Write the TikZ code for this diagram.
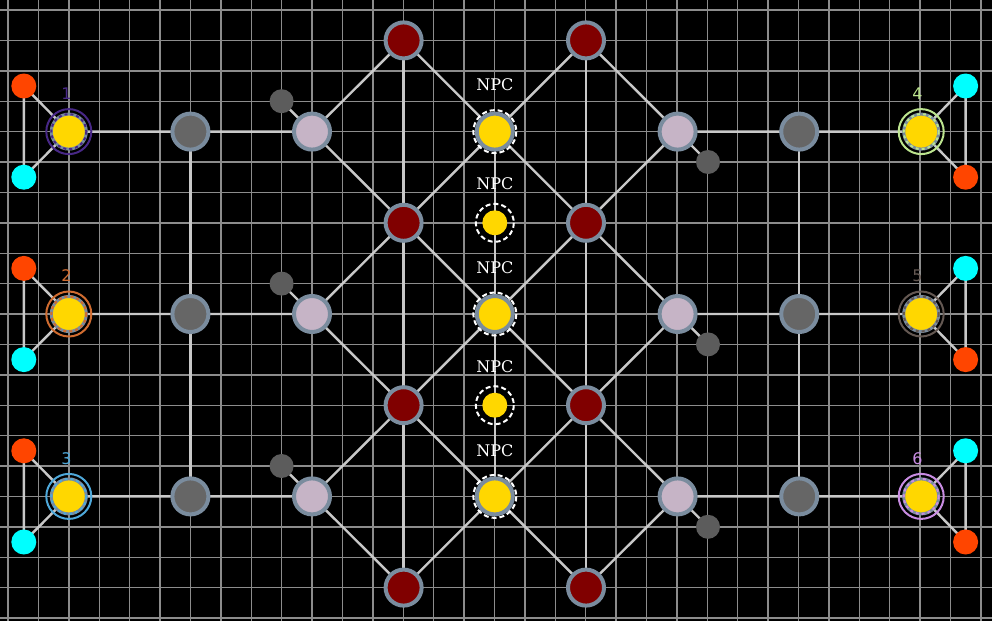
\documentclass[tikz,border=0pt]{standalone}
\usepackage{fontspec}
\newfontfamily\labfont{DejaVu Sans}
\newfontfamily\npcfont{DejaVu Serif}
\definecolor{slate}{RGB}{122,140,158}
\definecolor{darkred}{RGB}{128,0,0}
\definecolor{midgray}{RGB}{102,102,102}
\definecolor{tgray}{RGB}{92,92,92}
\definecolor{lav}{RGB}{198,180,198}
\definecolor{gold}{RGB}{255,215,0}
\definecolor{orangered}{RGB}{255,69,0}
\definecolor{aqua}{RGB}{0,255,255}
\definecolor{gridc}{RGB}{140,140,140}
\definecolor{edgec}{RGB}{200,200,200}
\definecolor{pone}{RGB}{72,40,135}
\definecolor{ptwo}{RGB}{208,108,48}
\definecolor{pthree}{RGB}{78,168,218}
\definecolor{pfour}{RGB}{188,228,142}
\definecolor{pfive}{RGB}{100,88,82}
\definecolor{psix}{RGB}{200,140,226}
\pgfdeclarelayer{gridlayer}
\pgfdeclarelayer{edgelayer}
\pgfsetlayers{gridlayer,edgelayer,main}
\begin{document}
\begin{tikzpicture}[x=1pt,y=-1pt,
  edge/.style={draw=edgec, line width=2.4pt},
  bignode/.style={circle, minimum size=36pt, inner sep=0pt, line width=4pt, draw=slate},
  rednode/.style={bignode, fill=darkred},
  graynode/.style={bignode, fill=midgray},
  lavnode/.style={bignode, fill=lav},
  npcbig/.style={bignode, fill=gold},
  npcsmall/.style={circle, minimum size=25pt, inner sep=0pt, fill=gold},
  tinygray/.style={circle, minimum size=24pt, inner sep=0pt, fill=tgray},
  orn/.style={circle, minimum size=25pt, inner sep=0pt, fill=orangered},
  cyn/.style={circle, minimum size=25pt, inner sep=0pt, fill=aqua},
  player/.style={circle, minimum size=35pt, inner sep=0pt, line width=3pt, draw=slate, fill=gold},
  plabel/.style={font=\labfont\fontsize{16}{16}\selectfont, inner sep=0pt},
  npclabel/.style={font=\npcfont\fontsize{16}{16}\selectfont, text=white, inner sep=0pt},
  npcring/.style={draw=white, line width=2pt, dash pattern=on 5pt off 3pt},
]
\useasboundingbox (0,0) rectangle (992,621);
\begin{pgfonlayer}{gridlayer}
\fill[black] (0,0) rectangle (992,621);
\foreach \k in {0,...,32} \draw[gridc, line width=1.4pt] ({8+30.4*\k},0) -- ({8+30.4*\k},621);
\foreach \k in {0,...,20} \draw[gridc, line width=1.4pt] (0,{10+30.4*\k}) -- (992,{10+30.4*\k});
\end{pgfonlayer}

% dark red nodes
\foreach \j/\y in {1/40.4,2/222.8,3/405.2,4/587.6}{
  \node[rednode] (rl\j) at (403.6,\y) {};
  \node[rednode] (rr\j) at (586.0,\y) {};
}
% NPC nodes
\node[npcbig] (n1) at (494.8,131.6) {};
\node[npcsmall] (n2) at (494.8,222.8) {};
\node[npcbig] (n3) at (494.8,314.0) {};
\node[npcsmall] (n4) at (494.8,405.2) {};
\node[npcbig] (n5) at (494.8,496.4) {};
\foreach \n in {n1,n3,n5} \draw[npcring] (\n.center) circle (21.5);
\foreach \n in {n2,n4} \draw[npcring] (\n.center) circle (19);
\node[npclabel] (t1) at (494.8,85) {NPC};
\node[npclabel] (t2) at (494.8,184) {NPC};
\node[npclabel] (t3) at (494.8,268) {NPC};
\node[npclabel] (t4) at (494.8,367) {NPC};
\node[npclabel] (t5) at (494.8,451) {NPC};

% left side
\foreach \i/\y/\c/\t in {1/131.6/pone/1,2/314.0/ptwo/2,3/496.4/pthree/3}{
  \node[graynode] (gl\i) at (190.4,\y) {};
  \node[lavnode] (ll\i) at (312.0,\y) {};
  \node[tinygray] (sl\i) at (281.6,{\y-30.4}) {};
  \node[orn] (ol\i) at (23.8,{\y-45.6}) {};
  \node[cyn] (cl\i) at (23.8,{\y+45.6}) {};
  \node[player] (pl\i) at (68.8,\y) {};
  \draw[\c, line width=2pt, dash pattern=on 3pt off 3pt] (pl\i.center) circle (17.5);
  \draw[\c, line width=2pt] (pl\i.center) circle (22.5);
  \node[plabel, text=\c] (ql\i) at (66.5,{\y-38}) {\t};
}
% right side
\foreach \i/\y/\c/\t in {1/131.6/pfour/4,2/314.0/pfive/5,3/496.4/psix/6}{
  \node[graynode] (gr\i) at (799.2,\y) {};
  \node[lavnode] (lr\i) at (677.6,\y) {};
  \node[tinygray] (sr\i) at (708.0,{\y+30.4}) {};
  \node[cyn] (cr\i) at (965.6,{\y-45.6}) {};
  \node[orn] (or\i) at (965.6,{\y+45.6}) {};
  \node[player] (pr\i) at (921.2,\y) {};
  \draw[\c, line width=2pt, dash pattern=on 3pt off 3pt] (pr\i.center) circle (17.5);
  \draw[\c, line width=2pt] (pr\i.center) circle (22.5);
  \node[plabel, text=\c] (qr\i) at (917.5,{\y-38}) {\t};
}

\begin{pgfonlayer}{edgelayer}
\foreach \i/\j in {1/2,2/3,3/4}{
  \draw[edge] (ll\i.center) -- (rl\i.center);
  \draw[edge] (ll\i.center) -- (rl\j.center);
  \draw[edge] (lr\i.center) -- (rr\i.center);
  \draw[edge] (lr\i.center) -- (rr\j.center);
  \draw[edge] (rl\i.center) -- (rl\j.center);
  \draw[edge] (rr\i.center) -- (rr\j.center);
}
\draw[edge] (rl1.center) -- (n1.center) -- (rr2.center);
\draw[edge] (rr1.center) -- (n1.center) -- (rl2.center);
\draw[edge] (rl2.center) -- (n3.center) -- (rr3.center);
\draw[edge] (rr2.center) -- (n3.center) -- (rl3.center);
\draw[edge] (rl3.center) -- (n5.center) -- (rr4.center);
\draw[edge] (rr3.center) -- (n5.center) -- (rl4.center);
\draw[edge] (n1.center) -- (n2.center) -- (n3.center) -- (n4.center) -- (n5.center);
\foreach \i in {1,2,3}{
  \draw[edge] (pl\i.center) -- (ol\i.center) -- (cl\i.center) -- (pl\i.center);
  \draw[edge] (pl\i.center) -- (gl\i.center) -- (ll\i.center) -- (sl\i.center);
  \draw[edge] (pr\i.center) -- (cr\i.center) -- (or\i.center) -- (pr\i.center);
  \draw[edge] (pr\i.center) -- (gr\i.center) -- (lr\i.center) -- (sr\i.center);
}
\draw[edge] (gl1.center) -- (gl2.center) -- (gl3.center);
\draw[edge] (gr1.center) -- (gr2.center) -- (gr3.center);
\end{pgfonlayer}
\end{tikzpicture}
\end{document}
